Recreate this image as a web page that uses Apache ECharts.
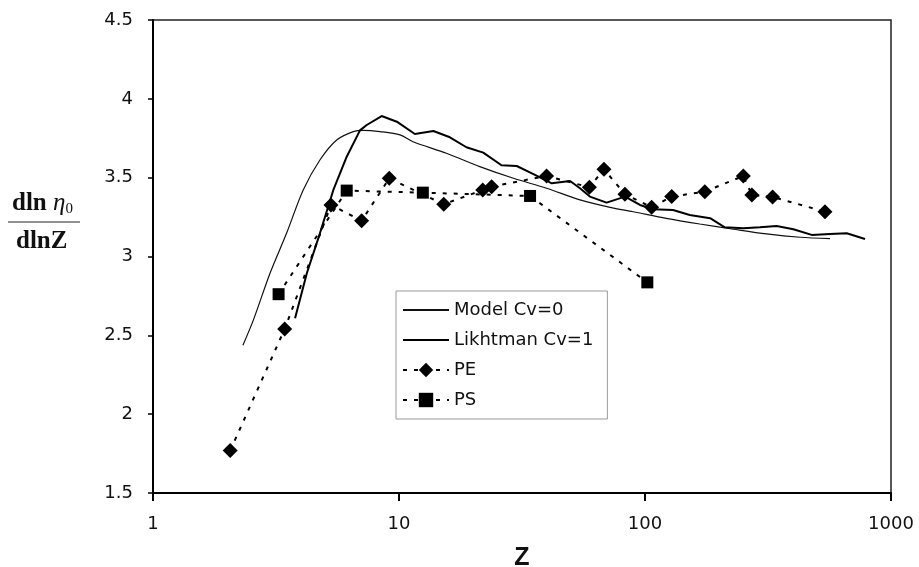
<!DOCTYPE html>
<html><head><meta charset="utf-8">
<script src="https://cdn.jsdelivr.net/npm/echarts@6/dist/echarts.min.js"></script>
<style>html,body{margin:0;padding:0;background:#fff}#c{width:919px;height:567px}</style>
</head><body><div id="c"></div>
<script>
const xTicks = [1, 10, 100, 1000];
const yTicks = [1.5, 2, 2.5, 3, 3.5, 4, 4.5];

const modelZ = [2.32, 2.56, 2.99, 3.49, 4.08, 4.77, 5.58, 6.52, 7.16, 8.37, 10.1, 11.4, 15.6, 21.3, 29.2, 39.8, 54.4, 72.1, 89.6, 122, 167, 229, 312, 427, 565];
const modelY = [2.437, 2.598, 2.894, 3.147, 3.422, 3.612, 3.739, 3.792, 3.80, 3.792, 3.771, 3.728, 3.655, 3.570, 3.496, 3.433, 3.359, 3.312, 3.284, 3.242, 3.206, 3.173, 3.143, 3.122, 3.113];

const likhZ = [3.78, 4.22, 4.77, 5.41, 6.13, 6.94, 7.39, 8.5, 9.8, 11.6, 13.8, 16.1, 18.8, 22.0, 26.1, 30.1, 35.2, 41.8, 49.6, 54.4, 59.7, 69.8, 83, 95.4, 108, 130, 152, 184, 211, 251, 293, 343, 401, 476, 565, 661, 784];
const likhY = [2.608, 2.894, 3.147, 3.422, 3.633, 3.80, 3.834, 3.891, 3.855, 3.777, 3.796, 3.756, 3.693, 3.659, 3.579, 3.574, 3.523, 3.464, 3.479, 3.433, 3.380, 3.342, 3.380, 3.327, 3.300, 3.295, 3.263, 3.243, 3.185, 3.179, 3.185, 3.194, 3.173, 3.137, 3.143, 3.147, 3.111];

const peZ = [2.06, 3.43, 5.29, 7.05, 9.13, 15.2, 21.9, 23.8, 39.8, 59.4, 68.1, 82.9, 106.4, 128.4, 175, 251, 272, 330, 539];
const peY = [1.769, 2.54, 3.327, 3.227, 3.496, 3.331, 3.422, 3.443, 3.511, 3.439, 3.553, 3.395, 3.312, 3.380, 3.411, 3.511, 3.390, 3.378, 3.284];

const psZ = [3.24, 6.13, 12.5, 34.1, 102.2];
const psY = [2.761, 3.418, 3.405, 3.384, 2.836];

const seriesNames = ['Model Cv=0', 'Likhtman Cv=1', 'PE', 'PS'];

const pairs = (xs, ys) => xs.map((x, i) => [x, ys[i]]);
const FONT = '"DejaVu Sans", "Liberation Sans", Arial, sans-serif';
const SERIF = '"Liberation Serif", "DejaVu Serif", serif';

const chart = echarts.init(document.getElementById('c'), null, {renderer: 'canvas'});
chart.setOption({
  animation: false,
  backgroundColor: '#fff',
  grid: {left: 153, right: 28, top: 20, bottom: 74, containLabel: false, outerBoundsMode: 'none',
    show: true, borderColor: '#222', borderWidth: 1.5, backgroundColor: 'transparent'},
  xAxis: {
    type: 'log', logBase: 10, min: xTicks[0], max: xTicks[xTicks.length - 1],
    axisLine: {show: true, lineStyle: {color: '#000', width: 2}},
    axisTick: {show: true, inside: false, length: 8, lineStyle: {color: '#000', width: 2}},
    axisLabel: {color: '#111', fontFamily: FONT, fontSize: 18, margin: 22,
      formatter: v => String(Math.round(v))},
    splitLine: {show: false}, minorTick: {show: false},
    name: 'Z', nameLocation: 'middle', nameGap: 53,
    nameTextStyle: {color: '#111', fontFamily: '"Liberation Sans", Arial, sans-serif', fontSize: 25, fontWeight: 'bold'}
  },
  yAxis: {
    type: 'value', min: yTicks[0], max: yTicks[yTicks.length - 1], interval: 0.5,
    axisLine: {show: true, lineStyle: {color: '#000', width: 2}},
    axisTick: {show: true, length: 5, lineStyle: {color: '#000', width: 1.5}},
    axisLabel: {color: '#111', fontFamily: FONT, fontSize: 18, margin: 20,
      formatter: v => String(v)},
    splitLine: {show: false}
  },
  legend: {
    orient: 'vertical', left: 396, top: 291,
    padding: [10, 14, 10, 6], itemGap: 12, itemWidth: 46, itemHeight: 18,
    backgroundColor: '#fff', borderColor: '#999', borderWidth: 1,
    textStyle: {color: '#111', fontFamily: FONT, fontSize: 18},
    data: [
      {name: seriesNames[0], itemStyle: {opacity: 0}},
      {name: seriesNames[1], itemStyle: {opacity: 0}},
      {name: seriesNames[2]},
      {name: seriesNames[3]}
    ]
  },
  series: [
    {name: seriesNames[0], type: 'line', data: pairs(modelZ, modelY), smooth: 0.3, showSymbol: false,
      lineStyle: {color: '#111', width: 1.2}, itemStyle: {color: '#111'}, z: 3},
    {name: seriesNames[1], type: 'line', data: pairs(likhZ, likhY), showSymbol: false,
      lineStyle: {color: '#000', width: 2}, itemStyle: {color: '#000'}, z: 3},
    {name: seriesNames[2], type: 'line', data: pairs(peZ, peY), symbol: 'diamond', symbolSize: 15, showSymbol: true,
      lineStyle: {color: '#000', width: 2, type: [4, 7]}, itemStyle: {color: '#000'}, z: 4},
    {name: seriesNames[3], type: 'line', data: pairs(psZ, psY), symbol: 'rect', symbolSize: 12, showSymbol: true,
      lineStyle: {color: '#000', width: 2, type: [4, 7]}, itemStyle: {color: '#000'}, z: 4}
  ],
  graphic: [
    {type: 'text', left: 12, top: 191, style: {
      rich: {
        a: {fontFamily: SERIF, fontWeight: 'bold', fontSize: 25, fill: '#111'},
        i: {fontFamily: SERIF, fontStyle: 'italic', fontSize: 25, fill: '#111'},
        s: {fontFamily: SERIF, fontSize: 15, fill: '#111', padding: [12, 0, 0, 0]}
      },
      text: '{a|dln }{i|η}{s|0}'
    }},
    {type: 'line', shape: {x1: 8, y1: 222, x2: 80, y2: 222}, style: {stroke: '#222', lineWidth: 1.2}},
    {type: 'text', left: 16, top: 229, style: {
      text: 'dlnZ', fontFamily: SERIF, fontWeight: 'bold', fontSize: 25, fill: '#111'
    }}
  ]
});
</script></body></html>
